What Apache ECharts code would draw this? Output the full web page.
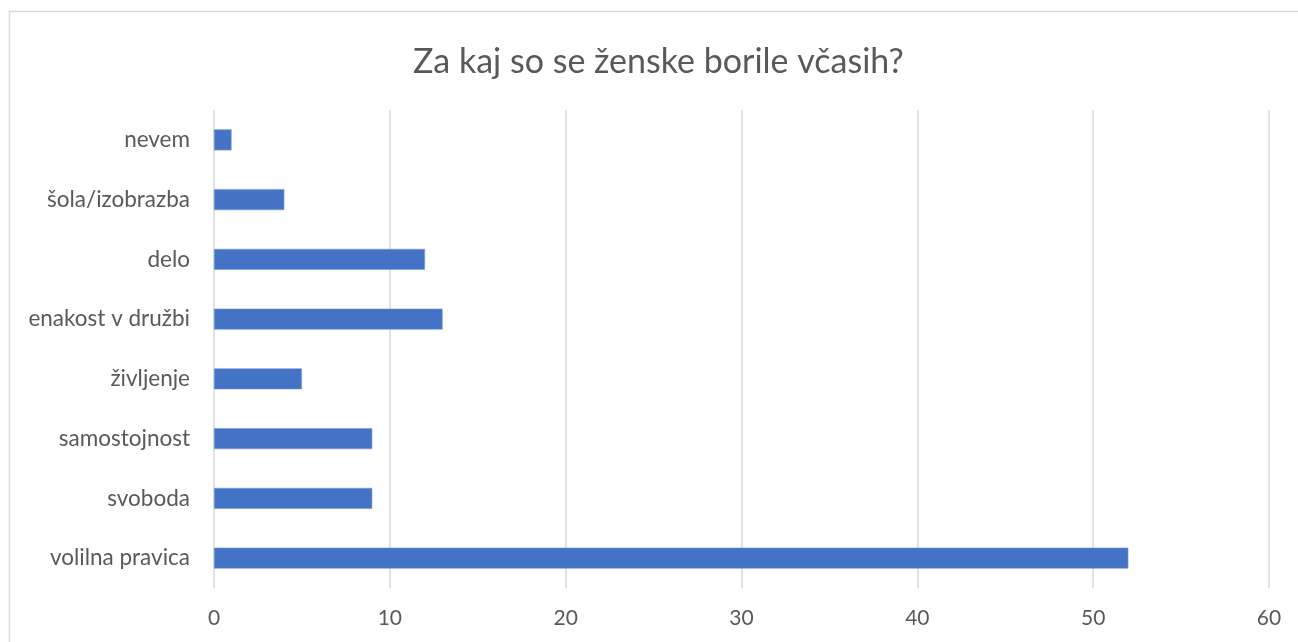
<!DOCTYPE html>
<html><head><meta charset="utf-8">
<script src="https://cdn.jsdelivr.net/npm/echarts@6/dist/echarts.min.js"></script>
<style>html,body{margin:0;padding:0;background:#fff}#c{width:1298px;height:642px}</style>
</head><body><div id="c"></div>
<script>
const titleText = 'Za kaj so se ženske borile včasih?';
const categories = ['volilna pravica','svoboda','samostojnost','življenje','enakost v družbi','delo','šola/izobrazba','nevem'];
const values = [52, 9, 9, 5, 13, 12, 4, 1];
const xTicks = { min: 0, max: 60, interval: 10 };

const chart = echarts.init(document.getElementById('c'));
const font = 'Lato, "Open Sans", sans-serif';
chart.setOption({
  animation: false,
  backgroundColor: '#fff',
  graphic: [{
    type: 'rect', silent: true,
    shape: { x: 9.5, y: 11.5, width: 1400, height: 700 },
    style: { fill: 'none', stroke: '#d9d9d9', lineWidth: 1.5 }
  }],
  title: {
    text: titleText, left: 408, top: 40,
    textStyle: { fontFamily: font, fontSize: 34, fontWeight: 'normal', color: '#595959' }
  },
  grid: { left: 214, right: 29, top: 110, bottom: 54, containLabel: false },
  xAxis: {
    type: 'value', min: xTicks.min, max: xTicks.max, interval: xTicks.interval,
    axisLine: { show: false }, axisTick: { show: false },
    splitLine: { lineStyle: { color: '#d9d9d9', width: 1.5 } },
    axisLabel: { fontFamily: font, fontSize: 21, color: '#595959', margin: 20 }
  },
  yAxis: {
    type: 'category', data: categories,
    axisLine: { show: false }, axisTick: { show: false },
    axisLabel: { fontFamily: font, fontSize: 22.5, color: '#595959', margin: 24 }
  },
  series: [{
    type: 'bar', data: values, barWidth: 21,
    itemStyle: { color: '#4472C4', borderColor: '#7a9bd6', borderWidth: 0.6 }
  }]
});
</script></body></html>
